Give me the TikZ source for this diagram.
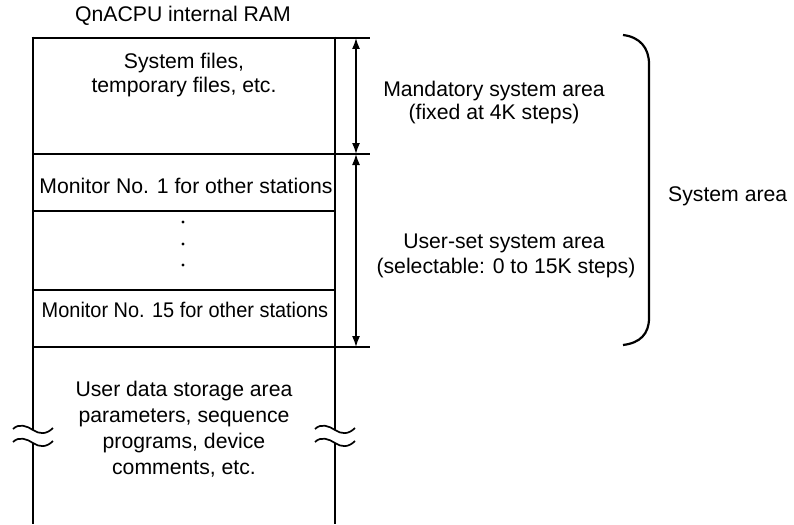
\documentclass[tikz,border=0pt]{standalone}
\usepackage{fontspec}
\setmainfont{Liberation Sans}
\usetikzlibrary{arrows.meta}
\begin{document}
\begin{tikzpicture}[x=1pt,y=-1pt,
  lbl/.style={inner sep=0pt, anchor=base, font=\fontsize{21.2}{25}\selectfont},
  outer/.style={line width=2.7pt},
  rule/.style={line width=1.9pt},
  dim/.style={line width=1.4pt, {Latex[length=11pt,width=8pt]}-{Latex[length=11pt,width=8pt]}},
  wavy/.style={line width=1.7pt},
  bracket/.style={line width=2.2pt},
  dot/.style={circle, fill=black, inner sep=0pt, minimum size=3.2pt},
]
\useasboundingbox (0,0) rectangle (794,524);

% title
\node[lbl] (title) at (183,22) {QnACPU internal RAM};

% key coordinates
\coordinate (a1) at (356,38);
\coordinate (a2) at (356,154);
\coordinate (a3) at (356,347);

% outer box
\draw[outer] (33,36.7) -- (33,430);
\draw[outer] (33,443) -- (33,524);
\draw[outer] (335,36.7) -- (335,430);
\draw[outer] (335,443) -- (335,524);
\draw[outer] (31.7,38) -- (370,38);
\draw[rule] (33,154) -- (370,154);
\draw[rule] (33,347) -- (370,347);
\draw[rule] (33,211) -- (335,211);
\draw[rule] (33,290) -- (335,290);

% break marks
\foreach \cx in {33,335}{
  \foreach \cy in {430,443}{
    \draw[wavy] (\cx-20,\cy-1) .. controls (\cx-14,\cy-7) and (\cx-6,\cy-4) .. (\cx,\cy)
                .. controls (\cx+6,\cy+4) and (\cx+13,\cy+5) .. (\cx+20,\cy-2);
  }
}

% box texts
\node[lbl] (sf1) at (184,69) {System files,};
\node[lbl] (sf2) at (184,93) {temporary files, etc.};
\node[lbl] (m1) at (186,193) {Monitor No. 1 for other stations};
\node[dot] (d1) at (183,222) {};
\node[dot] (d2) at (183,244) {};
\node[dot] (d3) at (183,265) {};
\node[lbl] (m15) at (185,317) {\scalebox{0.94}[1]{Monitor No. 15 for other stations}};
\node[lbl] (u1) at (184,396) {User data storage area};
\node[lbl] (u2) at (184,422) {parameters, sequence};
\node[lbl] (u3) at (184,448) {programs, device};
\node[lbl] (u4) at (184,474) {comments, etc.};

% dimension arrows
\draw[dim] (a1) -- (a2);
\draw[dim] (a2) -- (a3);

% right labels
\node[lbl] (ma1) at (494,96) {Mandatory system area};
\node[lbl] (ma2) at (494,120) {(fixed at 4K steps)};
\node[lbl] (us1) at (504,248) {User-set system area};
\node[lbl] (us2) at (506,273) {(selectable: 0 to 15K steps)};

% bracket
\draw[bracket] (623,35) .. controls (640,37) and (649,48) .. (649,64) -- (649,318)
   .. controls (649,334) and (640,343) .. (623,345);
\node[lbl, anchor=base west] (sa) at (668,201) {System area};
\end{tikzpicture}
\end{document}
